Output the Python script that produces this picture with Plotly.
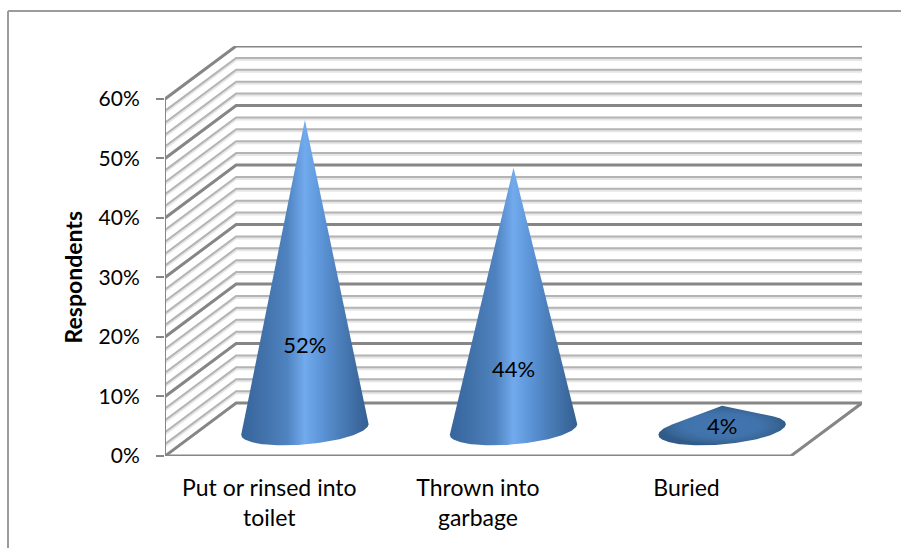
import math
import plotly.graph_objects as go

# Survey results
categories = ["Put or rinsed into<br>toilet", "Thrown into<br>garbage", "Buried"]
values = [52, 44, 4]
label_heights = [13.8, 9.8, 0.2]
major_ticks = [0, 10, 20, 30, 40, 50, 60]
minor_ticks = [v for v in range(2, 60, 2) if v % 10]
tick_labels = ["0%", "10%", "20%", "30%", "40%", "50%", "60%"]

W, H = 901, 548
LEFT, RIGHT, TOP, BOTTOM = 165, 39, 46, 92
DEPTH_X, DEPTH_Y = 0.341, 8.9      # receding-axis offset, in axis units
PX_X = (W - LEFT - RIGHT) / (3 + DEPTH_X)
PX_Y = (H - TOP - BOTTOM) / (60 + DEPTH_Y)
FONT = "Lato"
MAJOR, MINOR, SHADE = "#868686", "#b4b4b4", "#e6e6e6"

CONE_SCALE = [[0, "#36659c"], [0.18, "#4272aa"], [0.36, "#4f83c0"], [0.5, "#72aaee"],
              [0.62, "#5e96da"], [0.78, "#4a7db8"], [1, "#345f91"]]
FLAT_SCALE = [[0, "#4476b0"], [0.6, "#4072ab"], [0.88, "#386594"], [1, "#2f5a8a"]]


def wall_lines(levels):
    """Polyline path along the side wall and back wall for each axis level."""
    xs, ys = [], []
    for v in levels:
        xs += [0, DEPTH_X, 3 + DEPTH_X, None]
        ys += [v, v + DEPTH_Y, v + DEPTH_Y, None]
    return xs, ys


def cone_outline(slot, value):
    """Silhouette of a cone standing mid-depth on the floor, in axis units."""
    cx = slot + 0.5 + DEPTH_X / 2
    cy = DEPTH_Y / 2
    apex = (cx, cy + value)
    k = 0.6
    a = 60 / PX_X
    ring = []
    for i in range(240):
        t = 2 * math.pi * i / 240
        ring.append((cx + a * math.cos(t) + k * DEPTH_X / 2 * math.sin(t),
                     cy + k * DEPTH_Y / 2 * math.sin(t)))
    # convex hull of the base ring and the apex, measured in pixels
    pts = sorted(set(ring + [apex]), key=lambda p: (p[0], p[1]))

    def cross(o, p, q):
        return ((p[0] - o[0]) * PX_X * (q[1] - o[1]) * PX_Y
                - (p[1] - o[1]) * PX_Y * (q[0] - o[0]) * PX_X)

    def half(seq):
        out = []
        for p in seq:
            while len(out) > 1 and cross(out[-2], out[-1], p) <= 0:
                out.pop()
            out.append(p)
        return out[:-1]

    hull = half(pts) + half(pts[::-1])
    hull.append(hull[0])
    return [p[0] for p in hull], [p[1] for p in hull]


fig = go.Figure()

shade_x, shade_y = wall_lines(minor_ticks)
fig.add_trace(go.Scatter(x=shade_x, y=[None if v is None else v - 0.25 for v in shade_y],
                         mode="lines", line=dict(color=SHADE, width=3), cliponaxis=False,
                         hoverinfo="skip"))
minor_x, minor_y = wall_lines(minor_ticks)
fig.add_trace(go.Scatter(x=minor_x, y=minor_y, mode="lines",
                         line=dict(color=MINOR, width=2), cliponaxis=False, hoverinfo="skip"))
major_x, major_y = wall_lines(major_ticks)
fig.add_trace(go.Scatter(x=major_x, y=major_y, mode="lines",
                         line=dict(color=MAJOR, width=3), cliponaxis=False, hoverinfo="skip"))

# Floor edges and the vertical value axis
fig.add_trace(go.Scatter(x=[0, 3, 3 + DEPTH_X], y=[0, 0, DEPTH_Y], mode="lines",
                         line=dict(color=MAJOR, width=3), cliponaxis=False, hoverinfo="skip"))
fig.add_trace(go.Scatter(x=[0, 0], y=[0, 60], mode="lines",
                         line=dict(color=MAJOR, width=2), cliponaxis=False, hoverinfo="skip"))

for i, v in enumerate(values):
    xs, ys = cone_outline(i, v)
    squat = v < 10
    grad = dict(type="radial", colorscale=FLAT_SCALE) if squat else dict(
        type="horizontal", colorscale=CONE_SCALE)
    fig.add_trace(go.Scatter(x=xs, y=ys, mode="lines", fill="toself", fillgradient=grad,
                             line=dict(width=0), cliponaxis=False, hoverinfo="skip"))

fig.add_trace(go.Scatter(
    x=[i + 0.5 + DEPTH_X / 2 for i in range(len(values))],
    y=[h + DEPTH_Y / 2 for h in label_heights],
    text=[f"{v}%" for v in values], mode="text",
    textfont=dict(family=FONT, size=22, color="#000000"),
    cliponaxis=False, hoverinfo="skip"))

# Chart-area frame: left and top edges only
frame_x = lambda px: (px - LEFT) / (W - LEFT - RIGHT)
frame_y = lambda px: 1 - (px - TOP) / (H - TOP - BOTTOM)
frame = dict(type="line", xref="paper", yref="paper", line=dict(color="#9c9c9c", width=2))
shapes = [
    dict(frame, x0=frame_x(8), x1=frame_x(8), y0=frame_y(11), y1=frame_y(548)),
    dict(frame, x0=frame_x(8), x1=frame_x(901), y0=frame_y(11), y1=frame_y(11)),
]

# Value-axis title, centred on the front axis rather than the whole plot area
axis_title = dict(text="<b>Respondents</b>", textangle=-90, showarrow=False,
                  xref="paper", yref="y", x=frame_x(73), y=30,
                  xanchor="center", yanchor="middle",
                  font=dict(family=FONT, size=23, color="#000000"))

fig.update_layout(
    width=W, height=H, autosize=False, showlegend=False,
    margin=dict(l=LEFT, r=RIGHT, t=TOP, b=BOTTOM, pad=0),
    paper_bgcolor="white", plot_bgcolor="white", shapes=shapes,
    annotations=[axis_title],
    font=dict(family=FONT, size=21, color="#000000"),
    xaxis=dict(range=[0, 3 + DEPTH_X], tickmode="array", tickvals=[0.5, 1.5, 2.5],
               ticktext=categories, showgrid=False, zeroline=False, showline=False,
               ticks="", ticklabelstandoff=16, tickangle=0, tickfont=dict(family=FONT, size=23)),
    yaxis=dict(range=[0, 60 + DEPTH_Y], tickmode="array", tickvals=major_ticks,
               ticktext=tick_labels, showgrid=False, zeroline=False, showline=False,
               ticks="outside", ticklen=8, tickwidth=2, tickcolor=MAJOR, ticklabelstandoff=12,
               tickfont=dict(family=FONT, size=21)),
)

fig.write_html("out.html")
